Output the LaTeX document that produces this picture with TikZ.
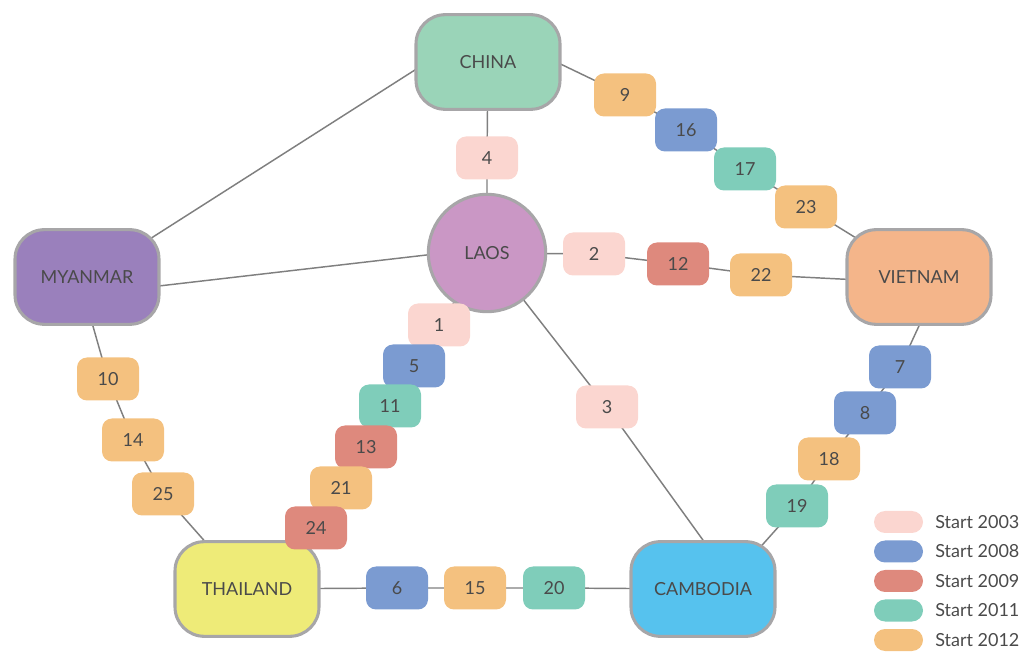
\documentclass[tikz,border=0pt]{standalone}
\usepackage{fontspec}
\setmainfont{Lato}
\usetikzlibrary{backgrounds,calc}
\definecolor{ink}{HTML}{4A4A4A}
\definecolor{edge}{HTML}{A7A6A8}
\definecolor{linegray}{HTML}{7F7F7F}
\definecolor{cchina}{HTML}{9AD4B8}
\definecolor{claos}{HTML}{CA97C5}
\definecolor{cmyanmar}{HTML}{9A80BC}
\definecolor{cvietnam}{HTML}{F4B58A}
\definecolor{cthailand}{HTML}{EEEB78}
\definecolor{ccambodia}{HTML}{56C2EE}
\definecolor{c2003}{HTML}{FBD6D0}
\definecolor{c2008}{HTML}{7B9BD1}
\definecolor{c2009}{HTML}{DE897D}
\definecolor{c2011}{HTML}{7FCDBA}
\definecolor{c2012}{HTML}{F4C17F}
\newcommand\lblfont{\fontsize{13.5}{16}\selectfont}
\tikzset{
  country/.style={draw=edge, line width=2.3pt, rounded corners=22pt, minimum width=108pt,
    minimum height=71pt, inner sep=0pt, text=ink, font=\lblfont},
  laosnode/.style={circle, draw=edge, line width=2.3pt, minimum size=88pt, inner sep=0pt,
    fill=claos, text=ink, font=\lblfont},
  tag/.style={rounded corners=7.5pt, minimum width=46.5pt, minimum height=32.25pt,
    inner sep=0pt, text=ink, font=\lblfont},
  ya/.style={tag, fill=c2003},
  yb/.style={tag, fill=c2008},
  yc/.style={tag, fill=c2009},
  yd/.style={tag, fill=c2011},
  ye/.style={tag, fill=c2012},
  keybox/.style={rounded corners=8.25pt, minimum width=36.75pt, minimum height=16.5pt, inner sep=0pt},
  keytext/.style={anchor=west, inner sep=0pt, text=ink, font=\lblfont},
  conn/.style={draw=linegray, line width=1.1pt}
}
\begin{document}
\begin{tikzpicture}[x=0.75pt,y=-0.75pt]
\useasboundingbox (0,0) rectangle (1026,652);
% countries
\node[country, fill=cchina] (china) at (488,62) {CHINA};
\node[laosnode] (laos) at (487,253) {LAOS};
\node[country, fill=cmyanmar] (myanmar) at (87,277) {MYANMAR};
\node[country, fill=cvietnam] (vietnam) at (919,277) {VIETNAM};
\node[country, fill=cthailand] (thailand) at (247,589) {THAILAND};
\node[country, fill=ccambodia] (cambodia) at (703,589) {CAMBODIA};
% tags
\node[ye] (n9) at (625,95) {9};
\node[yb] (n16) at (686,130) {16};
\node[yd] (n17) at (745,169) {17};
\node[ye] (n23) at (806,207) {23};
\node[ya] (n4) at (487,158) {4};
\node[ya] (n2) at (594,254) {2};
\node[yc] (n12) at (678,264) {12};
\node[ye] (n22) at (761,275) {22};
\node[ya] (n1) at (439,325) {1};
\node[yb] (n5) at (414,366) {5};
\node[yd] (n11) at (390,406) {11};
\node[yc] (n13) at (366,447) {13};
\node[ye] (n21) at (341,488) {21};
\node[yc] (n24) at (316,528) {24};
\node[ya] (n3) at (607,407) {3};
\node[yb] (n7) at (900,367) {7};
\node[yb] (n8) at (865,413) {8};
\node[ye] (n18) at (829,459) {18};
\node[yd] (n19) at (797,506) {19};
\node[ye] (n10) at (108,379) {10};
\node[ye] (n14) at (133,440) {14};
\node[ye] (n25) at (163,494) {25};
\node[yb] (n6) at (397,588) {6};
\node[ye] (n15) at (475,588) {15};
\node[yd] (n20) at (554,588) {20};
% legend
\node[keybox, fill=c2003] (k1) at (898.5,522) {};
\node[keybox, fill=c2008] (k2) at (898.5,551.5) {};
\node[keybox, fill=c2009] (k3) at (898.5,581) {};
\node[keybox, fill=c2011] (k4) at (898.5,610.5) {};
\node[keybox, fill=c2012] (k5) at (898.5,640) {};
\node[keytext] (t1) at (935,522) {Start 2003};
\node[keytext] (t2) at (935,551.5) {Start 2008};
\node[keytext] (t3) at (935,581) {Start 2009};
\node[keytext] (t4) at (935,610.5) {Start 2011};
\node[keytext] (t5) at (935,640) {Start 2012};
% connectors
\begin{pgfonlayer}{background}
\draw[conn] ($(china)+(-48,-8)$) -- ($(myanmar)+(33,-19)$);
\draw[conn] ($(laos)+(0,-5)$) -- ($(myanmar)+(20,15)$);
\draw[conn] (china.center) -- (n4.center) -- (laos.center);
\draw[conn] ($(china)+(60,-4)$) -- (n9.center) -- (n16.center) -- (n17.center) -- (n23.center) -- (vietnam.center);
\draw[conn] (laos.center) -- (n2.center) -- (n12.center) -- (n22.center) -- ($(vietnam)+(0,6)$);
\draw[conn] (laos.center) -- (n1.center) -- (n5.center) -- (n11.center) -- (n13.center) -- (n21.center) -- (n24.center) -- (thailand.center);
\draw[conn] (laos.center) -- (n3.center) -- (cambodia.north);
\draw[conn] ($(myanmar)+(-8,0)$) -- (n10.center) -- (n14.center) -- (n25.center) -- (thailand.center);
\draw[conn] (thailand.center) -- (n6.center) -- (n15.center) -- (n20.center) -- (cambodia.center);
\draw[conn] (vietnam.south) -- (n7.center) -- (n8.center) -- (n18.center) -- (n19.center) -- ($(cambodia)+(20,0)$);
\end{pgfonlayer}
\end{tikzpicture}
\end{document}
